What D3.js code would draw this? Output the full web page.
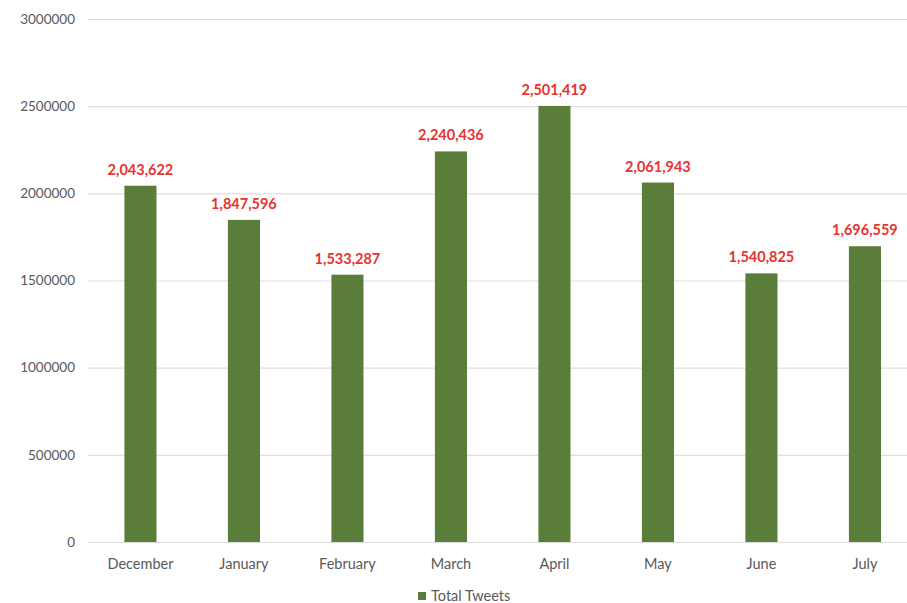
<!DOCTYPE html>
<html>
<head>
<meta charset="utf-8">
<script src="https://cdn.jsdelivr.net/npm/d3@7"></script>
<style>
  html, body { margin: 0; padding: 0; background: #fff; }
  svg { display: block; }
</style>
</head>
<body>
<svg id="chart" width="907" height="603"></svg>
<script>
// Monthly tweet totals
const months = ["December", "January", "February", "March", "April", "May", "June", "July"];
const totalTweets = [2043622, 1847596, 1533287, 2240436, 2501419, 2061943, 1540825, 1696559];
const yTicks = [0, 500000, 1000000, 1500000, 2000000, 2500000, 3000000];
const seriesName = "Total Tweets";

const font = "Lato, 'Open Sans', sans-serif";
const barColor = "#5a7e3a";
const labelColor = "#e8322e";
const textColor = "#595959";

const svg = d3.select("#chart");

const x = d3.scaleBand()
  .domain(months)
  .range([88.7, 916.7])
  .paddingInner(0.69)
  .paddingOuter(0.345);

const y = d3.scaleLinear()
  .domain([0, 3000000])
  .range([542, 19]);

// Horizontal gridlines
svg.append("g")
  .selectAll("line")
  .data(yTicks)
  .join("line")
  .attr("x1", 88)
  .attr("x2", 907)
  .attr("y1", d => y(d) + 0.5)
  .attr("y2", d => y(d) + 0.5)
  .attr("stroke", "#dedede")
  .attr("stroke-width", 1.2);

// Y axis labels
const yAxis = svg.append("g")
  .attr("transform", "translate(88,0)")
  .call(d3.axisLeft(y).tickValues(yTicks).tickFormat(d3.format("d")).tickSize(0).tickPadding(13));
yAxis.select(".domain").remove();
yAxis.selectAll("text")
  .attr("fill", textColor)
  .attr("font-family", font)
  .attr("font-size", 13.5);

// X axis labels
const xAxis = svg.append("g")
  .attr("transform", "translate(0,542)")
  .call(d3.axisBottom(x).tickSize(0).tickPadding(17));
xAxis.select(".domain").remove();
xAxis.selectAll("text")
  .attr("fill", textColor)
  .attr("font-family", font)
  .attr("font-size", 14.5);

// Bars
svg.append("g")
  .selectAll("rect")
  .data(totalTweets)
  .join("rect")
  .attr("x", (d, i) => x(months[i]))
  .attr("width", x.bandwidth())
  .attr("y", d => y(d))
  .attr("height", d => y(0) - y(d))
  .attr("fill", barColor);

// Value labels
svg.append("g")
  .selectAll("text")
  .data(totalTweets)
  .join("text")
  .attr("x", (d, i) => x(months[i]) + x.bandwidth() / 2)
  .attr("y", d => y(d) - 11)
  .attr("text-anchor", "middle")
  .attr("fill", labelColor)
  .attr("font-family", font)
  .attr("font-weight", "bold")
  .attr("font-size", 14.5)
  .text(d => d3.format(",")(d));

// Legend
const legend = svg.append("g");
legend.append("rect")
  .attr("x", 418)
  .attr("y", 592)
  .attr("width", 8)
  .attr("height", 8)
  .attr("fill", barColor);
legend.append("text")
  .attr("x", 431)
  .attr("y", 601)
  .attr("fill", textColor)
  .attr("font-family", font)
  .attr("font-size", 14.5)
  .text(seriesName);
</script>
</body>
</html>
